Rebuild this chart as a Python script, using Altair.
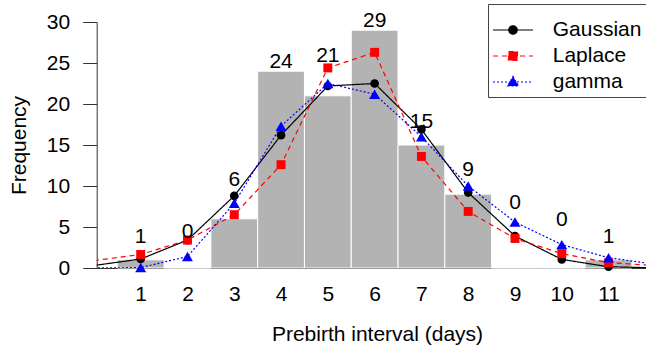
import altair as alt
import pandas as pd

# ---- data ----
days = list(range(0, 13))
gaussian = [0.3, 1.1, 3.4, 8.8, 16.2, 22.2, 22.5, 16.9, 9.2, 3.9, 1.05, 0.15, 0.02]
laplace = [0.9, 1.65, 3.4, 6.5, 12.6, 24.4, 26.3, 13.6, 6.9, 3.6, 1.75, 0.65, 0.3]
gamma = [0.0, 0.05, 1.4, 7.9, 17.3, 22.5, 21.2, 16.0, 10.0, 5.6, 2.85, 1.25, 0.45]

bar_days = list(range(1, 12))
counts = [1, 0, 6, 24, 21, 29, 15, 9, 0, 0, 1]
label_heights = [3.8, 4.4, 10.7, 25.1, 25.9, 30.1, 17.8, 12.0, 7.9, 5.85, 3.8]

models = ["Gaussian", "Laplace", "gamma"]

# ---- styles ----
colors = ["#000000", "#ff0000", "#0000ff"]
dashes = [[1, 0], [5, 4], [2, 2]]
shapes = ["circle", "square", "triangle-up"]
sizes = [75, 80, 120]
legend_paths = [
    "M-2,0L2,0M-0.42,0A0.42,0.42,0,1,1,0.42,0A0.42,0.42,0,1,1,-0.42,0Z",
    "M-2,0L2,0M-0.45,-0.45L0.45,-0.45L0.45,0.45L-0.45,0.45Z",
    "M-2,0L2,0M0,-0.55L0.55,0.4L-0.55,0.4Z",
]
FONT = "Liberation Sans"
FS = 21

rows = []
for name, series in zip(models, [gaussian, laplace, gamma]):
    for d, v in zip(days, series):
        rows.append({"day": d, "value": v, "model": name})
curves = pd.DataFrame(rows)

bars = pd.DataFrame({"day": bar_days, "count": counts, "ly": label_heights})

W, H = 549.3, 246
xscale = alt.Scale(domain=[0.06, 11.80], nice=False, zero=False)
yscale = alt.Scale(domain=[0, 30], nice=False)

xaxis = alt.Axis(values=bar_days, ticks=False, tickSize=0, labelFontSize=FS, labelFont=FONT,
                 labelColor="black", labelPadding=15, domainColor="#333333",
                 title="Prebirth interval (days)", titleFontSize=FS, titleFont=FONT,
                 titleFontWeight="normal", titleColor="black", titlePadding=19,
                 titleX=280.3, grid=False, labelFlush=False)
yaxis = alt.Axis(values=[0, 5, 10, 15, 20, 25, 30], tickSize=14, labelFontSize=FS, labelFont=FONT,
                 labelColor="black", labelPadding=13, domainColor="#333333", tickColor="#333333",
                 title="Frequency", titleFontSize=FS, titleFont=FONT, titleFontWeight="normal",
                 titleColor="black", titlePadding=17, grid=False)

base_bars = alt.Chart(bars)
hist = base_bars.transform_calculate(lo="datum.day - 0.5", hi="datum.day + 0.5").mark_rect(
    fill="#b3b3b3", stroke="white", strokeWidth=1
).encode(
    x=alt.X("lo:Q", scale=xscale, axis=xaxis),
    x2="hi:Q",
    y=alt.Y("count:Q", scale=yscale, axis=yaxis),
    y2=alt.datum(0),
)

labels = base_bars.mark_text(fontSize=FS, font=FONT, color="black", baseline="middle").encode(
    x=alt.X("day:Q", scale=xscale),
    y=alt.Y("ly:Q", scale=yscale),
    text="count:Q",
)

line_layers = []
point_layers = []
for name, shp, sz, col, dash in zip(models, shapes, sizes, colors, dashes):
    sub = alt.Chart(curves).transform_filter(alt.datum.model == name)
    line_layers.append(
        sub.mark_line(clip=True, strokeWidth=1.2, color=col, strokeDash=dash).encode(
            x=alt.X("day:Q", scale=xscale),
            y=alt.Y("value:Q", scale=yscale),
        )
    )
    point_layers.append(
        sub.transform_filter((alt.datum.day >= 1) & (alt.datum.day <= 11)).mark_point(
            shape=shp, size=sz, filled=True, color=col, opacity=1
        ).encode(
            x=alt.X("day:Q", scale=xscale),
            y=alt.Y("value:Q", scale=yscale),
        )
    )

leg = alt.Legend(title=" ")
legend_layer = alt.Chart(curves).transform_filter("false").mark_point(
    filled=True, size=400, opacity=1, strokeWidth=1.2
).encode(
    x=alt.X("day:Q", scale=xscale),
    y=alt.Y("value:Q", scale=yscale),
    color=alt.Color("model:N", scale=alt.Scale(domain=models, range=colors), legend=leg),
    stroke=alt.Stroke("model:N", scale=alt.Scale(domain=models, range=colors), legend=leg),
    strokeDash=alt.StrokeDash("model:N", scale=alt.Scale(domain=models, range=dashes), legend=leg),
    shape=alt.Shape("model:N", scale=alt.Scale(domain=models, range=legend_paths), legend=leg),
)

chart = alt.layer(hist, *line_layers, *point_layers, labels, legend_layer).properties(
    width=W, height=H,
    autosize=alt.AutoSizeParams(type="none"),
    padding={"left": 96.7, "top": 22, "right": 0, "bottom": 81},
).configure_view(stroke=None).configure_legend(
    orient="none", legendX=391.3, legendY=-18, padding=5,
    strokeColor="#444444", fillColor="white",
    symbolSize=400, symbolStrokeWidth=1.2, symbolOffset=9,
    labelFontSize=FS, labelFont=FONT, labelColor="black", labelOffset=28.7,
    rowPadding=5, titleFontSize=8, titlePadding=2,
)

chart.save("out.html", embed_options={"renderer": "svg", "actions": False})
